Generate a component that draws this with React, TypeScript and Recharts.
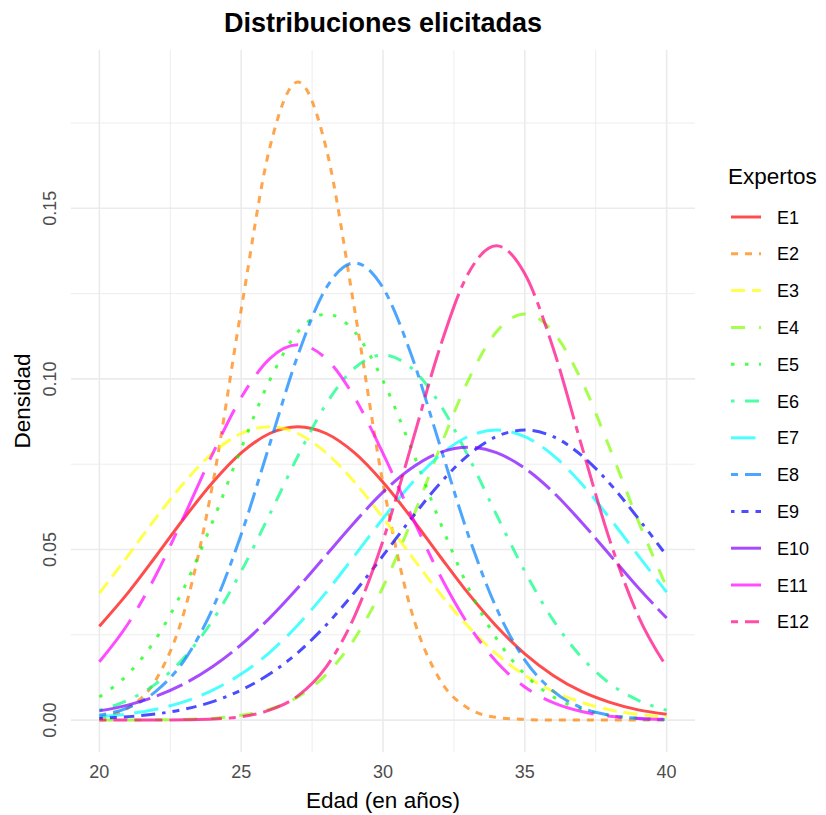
import React from 'react';
import { LineChart, Line, XAxis, YAxis, CartesianGrid } from 'recharts';

const FONT = '"Liberation Sans", Arial, Helvetica, sans-serif';

// Edad (en años)
const AGES = [20, 21, 22, 23, 24, 25, 26, 27, 28, 29, 30, 31, 32, 33, 34, 35, 36, 37, 38, 39, 40];

// Densidad elicitada por cada experto, una por edad
const E1 = [0.0275, 0.0372, 0.0481, 0.0593, 0.0697, 0.0783, 0.0840, 0.0860, 0.0840, 0.0783, 0.0697, 0.0593, 0.0481, 0.0372, 0.0275, 0.0194, 0.0131, 0.0084, 0.0052, 0.0030, 0.0017];
const E2 = [0.0008, 0.0035, 0.0119, 0.0320, 0.0694, 0.1203, 0.1675, 0.1870, 0.1675, 0.1203, 0.0694, 0.0320, 0.0119, 0.0035, 0.0008, 0.0002, 0.0000, 0.0000, 0.0000, 0.0000, 0.0000];
const E3 = [0.0372, 0.0481, 0.0593, 0.0697, 0.0783, 0.0840, 0.0860, 0.0840, 0.0783, 0.0697, 0.0593, 0.0481, 0.0372, 0.0275, 0.0194, 0.0131, 0.0084, 0.0052, 0.0030, 0.0017, 0.0009];
const E4 = [0.0000, 0.0000, 0.0001, 0.0002, 0.0005, 0.0014, 0.0032, 0.0068, 0.0134, 0.0239, 0.0390, 0.0583, 0.0796, 0.0995, 0.1138, 0.1190, 0.1138, 0.0995, 0.0796, 0.0583, 0.0390];
const E5 = [0.0068, 0.0134, 0.0239, 0.0390, 0.0583, 0.0796, 0.0995, 0.1138, 0.1190, 0.1138, 0.0995, 0.0796, 0.0583, 0.0390, 0.0239, 0.0134, 0.0068, 0.0032, 0.0014, 0.0005, 0.0002];
const E6 = [0.0029, 0.0058, 0.0107, 0.0184, 0.0293, 0.0436, 0.0602, 0.0774, 0.0927, 0.1032, 0.1070, 0.1032, 0.0927, 0.0774, 0.0602, 0.0436, 0.0293, 0.0184, 0.0107, 0.0058, 0.0029];
const E7 = [0.0010, 0.0018, 0.0032, 0.0054, 0.0088, 0.0135, 0.0198, 0.0279, 0.0375, 0.0482, 0.0591, 0.0693, 0.0776, 0.0831, 0.0850, 0.0831, 0.0776, 0.0693, 0.0591, 0.0482, 0.0375];
const E8 = [0.0014, 0.0036, 0.0085, 0.0176, 0.0328, 0.0544, 0.0807, 0.1070, 0.1267, 0.1340, 0.1267, 0.1070, 0.0807, 0.0544, 0.0328, 0.0176, 0.0085, 0.0036, 0.0014, 0.0005, 0.0001];
const E9 = [0.0005, 0.0010, 0.0018, 0.0032, 0.0054, 0.0088, 0.0135, 0.0198, 0.0279, 0.0375, 0.0482, 0.0591, 0.0693, 0.0776, 0.0831, 0.0850, 0.0831, 0.0776, 0.0693, 0.0591, 0.0482];
const E10 = [0.0027, 0.0044, 0.0070, 0.0107, 0.0157, 0.0221, 0.0299, 0.0388, 0.0484, 0.0580, 0.0668, 0.0738, 0.0784, 0.0800, 0.0784, 0.0738, 0.0668, 0.0580, 0.0484, 0.0388, 0.0299];
const E11 = [0.0171, 0.0281, 0.0426, 0.0600, 0.0782, 0.0945, 0.1059, 0.1100, 0.1059, 0.0945, 0.0782, 0.0600, 0.0426, 0.0281, 0.0171, 0.0097, 0.0051, 0.0025, 0.0011, 0.0005, 0.0002];
const E12 = [0.0000, 0.0000, 0.0000, 0.0001, 0.0003, 0.0010, 0.0029, 0.0071, 0.0156, 0.0305, 0.0526, 0.0805, 0.1090, 0.1308, 0.1390, 0.1308, 0.1090, 0.0805, 0.0526, 0.0305, 0.0156];

const EXPERTS = ['E1', 'E2', 'E3', 'E4', 'E5', 'E6', 'E7', 'E8', 'E9', 'E10', 'E11', 'E12'];
const SERIES = [E1, E2, E3, E4, E5, E6, E7, E8, E9, E10, E11, E12];

const X_TICKS = [20, 25, 30, 35, 40];
const Y_TICKS = [0, 0.05, 0.1, 0.15];
const X_MINOR = [22.5, 27.5, 32.5, 37.5];
const Y_MINOR = [0.025, 0.075, 0.125, 0.175];

// rainbow palette, drawn at 70% opacity
const COLORS = ['#FF0000', '#FF8000', '#FFFF00', '#80FF00', '#00FF00', '#00FF80', '#00FFFF', '#0080FF', '#0000FF', '#8000FF', '#FF00FF', '#FF0080'];
const LINETYPES = ['solid', '22', '42', '44', '13', '1343', '73', '2262', '12223242', 'F282', 'F4448444', '224282F2'];
const OPACITY = 0.7;
const LINE_W = 3;

function dashFor(code: string, unit = 3.5): string | undefined {
  if (code === 'solid') return undefined;
  return code
    .split('')
    .map((c) => parseInt(c, 16) * unit)
    .join(' ');
}

const rows = AGES.map((age, i) => {
  const r: Record<string, number> = { age };
  EXPERTS.forEach((name, k) => {
    r[name] = SERIES[k][i];
  });
  return r;
});

const XTick = (props: any) => {
  const { x, payload } = props;
  return (
    <text x={x} y={778} textAnchor="middle" fill="#4D4D4D" fontSize={18} fontFamily={FONT}>
      {payload.value}
    </text>
  );
};

const YTick = (props: any) => {
  const { y, payload } = props;
  const bx = 56;
  return (
    <text
      x={bx}
      y={y}
      transform={`rotate(-90, ${bx}, ${y})`}
      textAnchor="middle"
      fill="#4D4D4D"
      fontSize={18}
      fontFamily={FONT}
    >
      {Number(payload.value).toFixed(2)}
    </text>
  );
};

const LEGEND_TOP = 217;
const LEGEND_STEP = 36.8;

export default function App() {
  return (
    <div style={{ position: 'absolute', left: 0, top: 0, width: 826, height: 815, background: '#FFFFFF' }}>
      <div style={{ position: 'absolute', left: 0, top: 0 }}>
        <LineChart width={826} height={815} data={rows} margin={{ top: 50, right: 131, bottom: 0, left: 0 }}>
          <CartesianGrid
            stroke="#EBEBEB"
            strokeWidth={0.9}
            horizontalValues={Y_MINOR}
            verticalValues={X_MINOR}
          />
          <CartesianGrid
            stroke="#EBEBEB"
            strokeWidth={1.6}
            horizontalValues={Y_TICKS}
            verticalValues={X_TICKS}
          />
          <XAxis
            dataKey="age"
            type="number"
            domain={[19, 41]}
            ticks={X_TICKS}
            allowDataOverflow
            axisLine={false}
            tickLine={false}
            height={63}
            tick={<XTick />}
            interval={0}
          />
          <YAxis
            type="number"
            domain={[-0.00935, 0.1964]}
            ticks={Y_TICKS}
            allowDataOverflow
            axisLine={false}
            tickLine={false}
            width={71}
            tick={<YTick />}
            interval={0}
          />
          {EXPERTS.map((name, k) => (
            <Line
              key={name}
              dataKey={name}
              type="monotone"
              stroke={COLORS[k]}
              strokeOpacity={OPACITY}
              strokeWidth={LINE_W}
              strokeDasharray={dashFor(LINETYPES[k])}
              strokeLinecap="butt"
              dot={false}
              activeDot={false}
              isAnimationActive={false}
            />
          ))}
        </LineChart>
      </div>
      <svg
        width={826}
        height={815}
        style={{ position: 'absolute', left: 0, top: 0, pointerEvents: 'none' }}
      >
        <text x={383} y={32} textAnchor="middle" fontSize={27} fontWeight="bold" fontFamily={FONT} fill="#000000">
          Distribuciones elicitadas
        </text>
        <text x={383} y={808} textAnchor="middle" fontSize={22.5} fontFamily={FONT} fill="#000000">
          Edad (en años)
        </text>
        <text
          x={30}
          y={401}
          transform="rotate(-90, 30, 401)"
          textAnchor="middle"
          fontSize={22.5}
          fontFamily={FONT}
          fill="#000000"
        >
          Densidad
        </text>
        <text x={728} y={184} fontSize={22.5} fontFamily={FONT} fill="#000000">
          Expertos
        </text>
        {EXPERTS.map((name, k) => {
          const cy = LEGEND_TOP + k * LEGEND_STEP;
          return (
            <g key={name}>
              <line
                x1={731}
                x2={761}
                y1={cy}
                y2={cy}
                stroke={COLORS[k]}
                strokeOpacity={OPACITY}
                strokeWidth={LINE_W}
                strokeDasharray={dashFor(LINETYPES[k])}
              />
              <text x={777} y={cy + 6.5} fontSize={18} fontFamily={FONT} fill="#000000">
                {name}
              </text>
            </g>
          );
        })}
      </svg>
    </div>
  );
}
